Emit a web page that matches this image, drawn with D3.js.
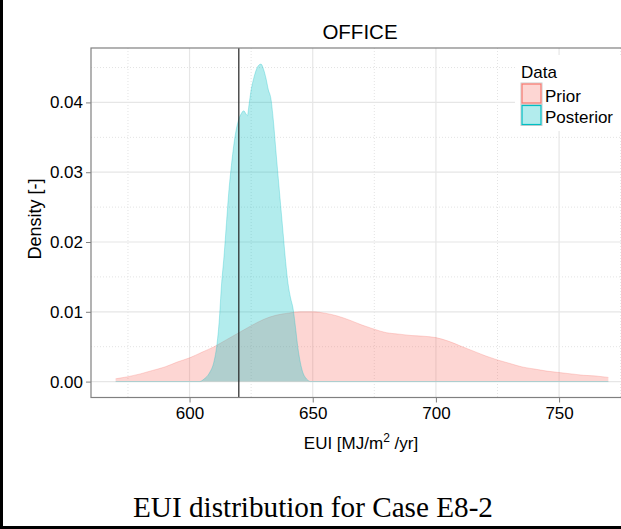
<!DOCTYPE html>
<html>
<head>
<meta charset="utf-8">
<script src="https://cdn.jsdelivr.net/npm/d3@7/dist/d3.min.js"></script>
<style>
  html, body { margin: 0; padding: 0; background: #fff; }
  svg { display: block; }
  text { font-family: "Liberation Sans", Arial, sans-serif; fill: #000; }
</style>
</head>
<body>
<svg id="chart" width="621" height="529"></svg>
<script>
// Prior density on a 5 MJ/m2/yr grid
const priorEUI = [570,575,580,585,590,595,600,605,610,615,620,625,630,635,640,645,650,655,660,665,670,
                  675,680,685,690,695,700,705,710,715,720,725,730,735,740,745,750,755,760,765,770];
const priorDensity = [0.0004,0.0007,0.0011,0.0016,0.0021,0.0028,0.0034,0.0042,0.0050,0.0060,0.0070,
                      0.0080,0.0089,0.0095,0.0098,0.0100,0.0100,0.0098,0.0094,0.0088,0.0081,
                      0.0075,0.0070,0.0068,0.0066,0.0065,0.0063,0.0058,0.0051,0.0044,0.0037,
                      0.0031,0.0026,0.0021,0.0018,0.0015,0.0013,0.0011,0.0009,0.0008,0.0006];

// Posterior density (narrow peak, zero elsewhere)
const postEUI = [570,600,604,606,608,610,611,612,613,614,615,616,617,618,619,620,621,622,623,623.5,624,
                 625,626,627,628,629,630,631,632,633,634,635,636,637,638,639,640,641,642,643,644,
                 645,646,647,648,649,650,700,770];
const postDensity = [0,0,0,0.0004,0.0012,0.0030,0.0050,0.0085,0.0140,0.0180,0.0228,0.0275,0.0310,0.0340,
                     0.0362,0.0376,0.0384,0.0388,0.0383,0.0381,0.0393,0.0418,0.0434,0.0446,0.0453,0.0455,
                     0.0448,0.0435,0.0418,0.0406,0.0375,0.0333,0.0292,0.0252,0.0212,0.0172,0.0140,0.0120,
                     0.0105,0.0078,0.0048,0.0027,0.0013,0.0006,0.0002,0,0,0,0];

const seriesNames = ["Prior", "Posterior"];
const seriesColors = ["#F8766D", "#00BFC4"];
const measuredEUI = 620;

const xTicks = [600, 650, 700, 750];
const xMinor = [575, 625, 675, 725, 775];
const yTicks = [0.00, 0.01, 0.02, 0.03, 0.04];
const yMinor = [0.005, 0.015, 0.025, 0.035, 0.045];

const titleText = "OFFICE";
const xTitle = "EUI [MJ/m";
const yTitle = "Density [-]";
const legendTitle = "Data";
const captionText = "EUI distribution for Case E8-2";

const svg = d3.select("#chart");
const panel = { left: 91, right: 633, top: 48, bottom: 397.5 };

const x = d3.scaleLinear().domain([560, 780]).range([panel.left, panel.right]);
const y = d3.scaleLinear().domain([-0.00228, 0.0478]).range([panel.bottom, panel.top]);

// clip to panel
svg.append("defs").append("clipPath").attr("id", "clip")
  .append("rect").attr("x", panel.left).attr("y", panel.top)
  .attr("width", panel.right - panel.left).attr("height", panel.bottom - panel.top);

const g = svg.append("g").attr("clip-path", "url(#clip)");

// minor grid (dotted)
g.selectAll(".xminor").data(xMinor).join("line")
  .attr("x1", d => x(d)).attr("x2", d => x(d)).attr("y1", panel.top).attr("y2", panel.bottom)
  .attr("stroke", "#e3e3e3").attr("stroke-width", 1).attr("stroke-dasharray", "1,2");
g.selectAll(".yminor").data(yMinor).join("line")
  .attr("y1", d => y(d)).attr("y2", d => y(d)).attr("x1", panel.left).attr("x2", panel.right)
  .attr("stroke", "#e3e3e3").attr("stroke-width", 1).attr("stroke-dasharray", "1,2");

// major grid
g.selectAll(".xmajor").data(xTicks).join("line")
  .attr("x1", d => x(d)).attr("x2", d => x(d)).attr("y1", panel.top).attr("y2", panel.bottom)
  .attr("stroke", "#e6e6e6").attr("stroke-width", 1.2);
g.selectAll(".ymajor").data(yTicks).join("line")
  .attr("y1", d => y(d)).attr("y2", d => y(d)).attr("x1", panel.left).attr("x2", panel.right)
  .attr("stroke", "#e6e6e6").attr("stroke-width", 1.2);

// density areas
const series = [
  { name: seriesNames[0], color: seriesColors[0], pts: priorEUI.map((v, i) => [v, priorDensity[i]]) },
  { name: seriesNames[1], color: seriesColors[1], pts: postEUI.map((v, i) => [v, postDensity[i]]) }
];
const area = d3.area().x(d => x(d[0])).y0(y(0)).y1(d => y(d[1])).curve(d3.curveMonotoneX);
const line = d3.line().x(d => x(d[0])).y(d => y(d[1])).curve(d3.curveMonotoneX);

series.forEach(s => {
  g.append("path").attr("d", area(s.pts)).attr("fill", s.color).attr("fill-opacity", 0.3);
  g.append("path").attr("d", line(s.pts)).attr("fill", "none")
    .attr("stroke", s.color).attr("stroke-opacity", 0.35).attr("stroke-width", 0.8);
});

// measured value line
g.append("line").attr("x1", x(measuredEUI)).attr("x2", x(measuredEUI))
  .attr("y1", panel.top).attr("y2", panel.bottom)
  .attr("stroke", "#222").attr("stroke-width", 1.2);

// axes
const xAxis = d3.axisBottom(x).tickValues(xTicks).tickSize(5).tickPadding(4).tickFormat(d3.format("d"));
const yAxis = d3.axisLeft(y).tickValues(yTicks).tickSize(5).tickPadding(3).tickFormat(d3.format(".2f"));

const gx = svg.append("g").attr("transform", `translate(0,${panel.bottom})`).call(xAxis);
const gy = svg.append("g").attr("transform", `translate(${panel.left},0)`).call(yAxis);
[gx, gy].forEach(a => {
  a.select(".domain").remove();
  a.selectAll(".tick line").attr("stroke", "#7f7f7f");
  a.selectAll(".tick text").attr("font-size", 17).attr("fill", "#000")
    .style("font-family", "'Liberation Sans', Arial, sans-serif");
});

// panel border
svg.append("rect").attr("x", panel.left).attr("y", panel.top)
  .attr("width", panel.right - panel.left).attr("height", panel.bottom - panel.top)
  .attr("fill", "none").attr("stroke", "#808080").attr("stroke-width", 1.2);

// titles
svg.append("text").attr("x", 360).attr("y", 39).attr("text-anchor", "middle")
  .attr("font-size", 20.5).text(titleText);

const xt = svg.append("text").attr("x", 361).attr("y", 449).attr("text-anchor", "middle")
  .attr("font-size", 17);
xt.append("tspan").text(xTitle);
xt.append("tspan").attr("dy", -7).attr("font-size", 12).text("2");
xt.append("tspan").attr("dy", 7).text(" /yr]");

svg.append("text").attr("transform", "translate(41,219) rotate(-90)")
  .attr("text-anchor", "middle").attr("font-size", 18).text(yTitle);

// legend
const lg = svg.append("g");
lg.append("rect").attr("x", 515).attr("y", 55).attr("width", 110).attr("height", 76).attr("fill", "#fff");
lg.append("text").attr("x", 521).attr("y", 78).attr("font-size", 17).text(legendTitle);
series.forEach((s, i) => {
  const ky = 83 + i * 21.5;
  lg.append("rect").attr("x", 521).attr("y", ky).attr("width", 21).attr("height", 21)
    .attr("fill", "#fff").attr("stroke", "#cccccc").attr("stroke-width", 1);
  lg.append("rect").attr("x", 522).attr("y", ky + 1).attr("width", 19).attr("height", 19)
    .attr("fill", s.color).attr("fill-opacity", 0.3)
    .attr("stroke", s.color).attr("stroke-width", 1.2);
  lg.append("text").attr("x", 545).attr("y", ky + 18.5).attr("font-size", 17).text(s.name);
});

// caption
svg.append("text").attr("x", 313).attr("y", 517).attr("text-anchor", "middle")
  .attr("font-size", 29.2).style("font-family", "'Liberation Serif', 'Times New Roman', serif")
  .text(captionText);

// frame
svg.append("rect").attr("x", 0).attr("y", 0).attr("width", 3).attr("height", 529).attr("fill", "#000");
svg.append("rect").attr("x", 0).attr("y", 526).attr("width", 621).attr("height", 3).attr("fill", "#000");
</script>
</body>
</html>
